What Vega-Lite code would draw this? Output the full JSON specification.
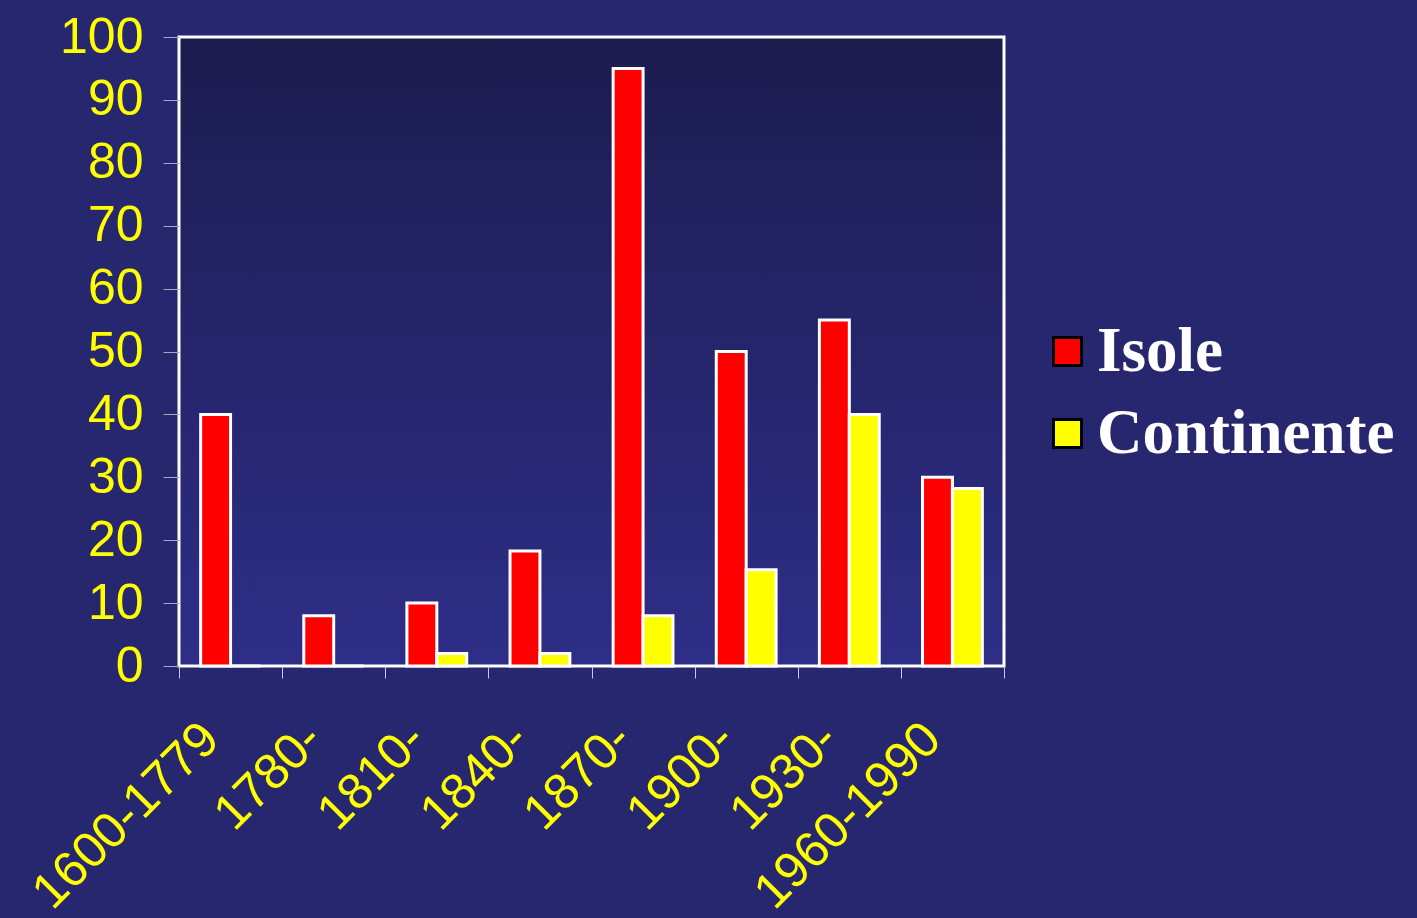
{
  "$schema": "https://vega.github.io/schema/vega-lite/v6.json",
  "width": 825,
  "height": 629,
  "autosize": {"type": "none"},
  "padding": {"left": 179, "top": 37, "right": 413, "bottom": 252},
  "background": "#27276f",
  "data": {
    "values": [
      {"period": "1600-1779", "region": "Isole", "value": 40},
      {"period": "1600-1779", "region": "Continente", "value": 0},
      {"period": "1780-", "region": "Isole", "value": 8},
      {"period": "1780-", "region": "Continente", "value": 0},
      {"period": "1810-", "region": "Isole", "value": 10},
      {"period": "1810-", "region": "Continente", "value": 2},
      {"period": "1840-", "region": "Isole", "value": 18.3},
      {"period": "1840-", "region": "Continente", "value": 2},
      {"period": "1870-", "region": "Isole", "value": 95},
      {"period": "1870-", "region": "Continente", "value": 8},
      {"period": "1900-", "region": "Isole", "value": 50},
      {"period": "1900-", "region": "Continente", "value": 15.3},
      {"period": "1930-", "region": "Isole", "value": 55},
      {"period": "1930-", "region": "Continente", "value": 40},
      {"period": "1960-1990", "region": "Isole", "value": 30},
      {"period": "1960-1990", "region": "Continente", "value": 28.2}
    ]
  },
  "mark": {"type": "bar", "stroke": "white", "strokeWidth": 3},
  "encoding": {
    "x": {
      "field": "period",
      "type": "nominal",
      "sort": null,
      "scale": {"paddingInner": 0, "paddingOuter": 0},
      "axis": {
        "title": null,
        "domain": false,
        "tickBand": "extent",
        "tickSize": 12,
        "tickColor": "#c8c8e0",
        "tickWidth": 1,
        "labelAngle": -45,
        "labelAlign": "right",
        "labelBaseline": "middle",
        "labelColor": "#ffff00",
        "labelFont": "Liberation Sans",
        "labelFontSize": 50,
        "labelPadding": 53,
        "labelOffset": -20,
        "labelOverlap": false,
        "labelBound": false,
        "labelLimit": 400
      }
    },
    "xOffset": {
      "field": "region",
      "type": "nominal",
      "sort": ["Isole", "Continente"],
      "scale": {"paddingInner": 0, "paddingOuter": 0.724}
    },
    "y": {
      "field": "value",
      "type": "quantitative",
      "scale": {"domain": [0, 100], "nice": false},
      "axis": {
        "title": null,
        "domain": false,
        "grid": false,
        "values": [0, 10, 20, 30, 40, 50, 60, 70, 80, 90, 100],
        "tickSize": 16,
        "tickColor": "#a8a8c8",
        "tickWidth": 1,
        "labelColor": "#ffff00",
        "labelFont": "Liberation Sans",
        "labelFontSize": 50,
        "labelPadding": 20,
        "labelFlush": false,
        "labelOverlap": false,
        "labelBound": false
      }
    },
    "color": {
      "field": "region",
      "type": "nominal",
      "sort": ["Isole", "Continente"],
      "scale": {"domain": ["Isole", "Continente"], "range": ["#ff0000", "#ffff00"]},
      "legend": {
        "title": null,
        "orient": "none",
        "legendX": 857,
        "legendY": 283,
        "padding": 0,
        "symbolType": "square",
        "symbolSize": 784,
        "symbolStrokeColor": "black",
        "symbolStrokeWidth": 3,
        "symbolOpacity": 1,
        "labelFont": "Liberation Serif",
        "labelFontWeight": "bold",
        "labelFontSize": 63,
        "labelColor": "white",
        "labelOffset": -2,
        "labelBaseline": "middle",
        "rowPadding": 18,
        "labelLimit": 0
      }
    }
  },
  "config": {
    "view": {
      "stroke": "white",
      "strokeWidth": 3,
      "fill": {
        "gradient": "linear",
        "x1": 0, "y1": 0, "x2": 0, "y2": 1,
        "stops": [
          {"offset": 0, "color": "#1c1c4f"},
          {"offset": 1, "color": "#2e2e88"}
        ]
      }
    }
  }
}
